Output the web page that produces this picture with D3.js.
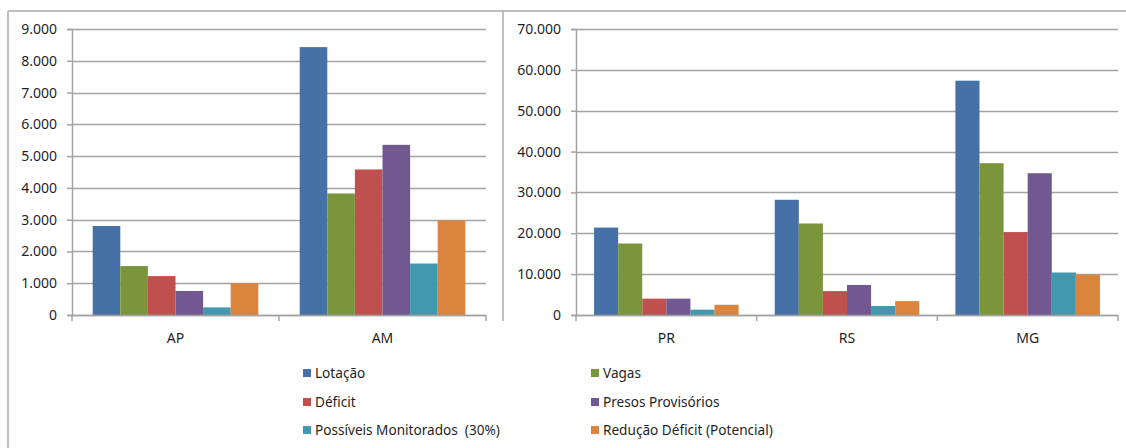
<!DOCTYPE html>
<html>
<head>
<meta charset="utf-8">
<script src="https://cdn.jsdelivr.net/npm/d3@7"></script>
<style>
  html, body { margin: 0; padding: 0; background: #fff; }
  svg { display: block; font-family: "Noto Sans", "Open Sans", sans-serif; }
</style>
</head>
<body>
<svg id="chart" width="1126" height="448"></svg>
<script>
// ---- data ----
const series = ["Lotação", "Vagas", "Déficit", "Presos Provisórios", "Possíveis Monitorados  (30%)", "Redução Déficit (Potencial)"];
const colors = ["#4571A6", "#7A953C", "#C0504D", "#715891", "#4298AF", "#DB843D"];

const leftCategories = ["AP", "AM"];
const leftLotacao     = [2800, 8430];
const leftVagas       = [1540, 3825];
const leftDeficit     = [1225, 4580];
const leftPresos      = [755, 5355];
const leftMonitorados = [240, 1620];
const leftReducao     = [1000, 2975];
const leftTicks = [0, 1000, 2000, 3000, 4000, 5000, 6000, 7000, 8000, 9000];

const rightCategories = ["PR", "RS", "MG"];
const rightLotacao     = [21400, 28200, 57350];
const rightVagas       = [17500, 22400, 37150];
const rightDeficit     = [4000, 5850, 20300];
const rightPresos      = [4000, 7350, 34700];
const rightMonitorados = [1300, 2200, 10400];
const rightReducao     = [2500, 3400, 9850];
const rightTicks = [0, 10000, 20000, 30000, 40000, 50000, 60000, 70000];

// ---- helpers ----
const locale = d3.formatLocale({decimal: ",", thousands: ".", grouping: [3], currency: ["R$", ""]});
const fmt = locale.format(",.0f");
const svg = d3.select("#chart");
const gridColor = "#a3a3a3";
const textColor = "#1f1f1f";

// outer frame
svg.append("line").attr("x1", 8).attr("x2", 1126).attr("y1", 11).attr("y2", 11)
  .attr("stroke", "#ababab").attr("stroke-width", 1.5);
svg.append("line").attr("x1", 8).attr("x2", 8).attr("y1", 11).attr("y2", 448)
  .attr("stroke", "#ababab").attr("stroke-width", 1.5);
svg.append("line").attr("x1", 503).attr("x2", 503).attr("y1", 11).attr("y2", 321)
  .attr("stroke", "#ababab").attr("stroke-width", 1.5);

function drawPanel(cats, seriesVals, ticks, x0, x1, yTop, yBot) {
  const g = svg.append("g");
  const x = d3.scaleBand().domain(cats).range([x0, x1]).paddingInner(0).paddingOuter(0);
  const inner = d3.scaleBand().domain(d3.range(series.length)).range([0, x.bandwidth()])
    .paddingOuter(0.75).paddingInner(0);
  const y = d3.scaleLinear().domain([0, ticks[ticks.length - 1]]).range([yBot, yTop]);

  // gridlines
  g.append("g").selectAll("line").data(ticks).join("line")
    .attr("x1", x0).attr("x2", x1)
    .attr("y1", d => Math.round(y(d)) + 0.5).attr("y2", d => Math.round(y(d)) + 0.5)
    .attr("stroke", gridColor).attr("stroke-width", 1.5);

  // y axis
  const yAxis = d3.axisLeft(y).tickValues(ticks).tickFormat(fmt).tickSize(5).tickPadding(10);
  const ya = g.append("g").attr("transform", `translate(${x0},0)`).call(yAxis);
  ya.select(".domain").attr("stroke", gridColor).attr("stroke-width", 1.5);
  ya.selectAll(".tick line").attr("stroke", gridColor).attr("stroke-width", 1.5);
  ya.selectAll(".tick text").attr("fill", textColor).style("font-size", "14px")
    .style("font-family", "'Noto Sans', sans-serif");

  // bars
  const groups = g.append("g").selectAll("g").data(cats).join("g")
    .attr("transform", c => `translate(${x(c)},0)`);
  groups.selectAll("rect").data((c, ci) => seriesVals.map((vals, si) => ({si, v: vals[ci]})))
    .join("rect")
    .attr("x", d => inner(d.si))
    .attr("width", inner.bandwidth())
    .attr("y", d => y(d.v))
    .attr("height", d => yBot - y(d.v))
    .attr("fill", d => colors[d.si]);

  // x axis
  const xa = g.append("g").attr("transform", `translate(0,${yBot})`);
  xa.append("line").attr("x1", x0).attr("x2", x1).attr("y1", 0.5).attr("y2", 0.5)
    .attr("stroke", gridColor).attr("stroke-width", 1.5);
  const bounds = cats.map(c => x(c)).concat([x1]);
  xa.selectAll("line.tk").data(bounds).join("line").attr("class", "tk")
    .attr("x1", d => d).attr("x2", d => d).attr("y1", 0).attr("y2", 6)
    .attr("stroke", gridColor).attr("stroke-width", 1.5);
  xa.selectAll("text").data(cats).join("text")
    .attr("x", c => x(c) + x.bandwidth() / 2).attr("y", 28)
    .attr("text-anchor", "middle").attr("fill", textColor)
    .style("font-size", "14px").text(c => c);
}

drawPanel(leftCategories,
  [leftLotacao, leftVagas, leftDeficit, leftPresos, leftMonitorados, leftReducao],
  leftTicks, 72, 486, 29, 315);
drawPanel(rightCategories,
  [rightLotacao, rightVagas, rightDeficit, rightPresos, rightMonitorados, rightReducao],
  rightTicks, 576, 1118, 29, 315);

// legend
const legendX = [303, 591];
const legendY = [373, 402, 430];
const lg = svg.append("g").selectAll("g").data(series).join("g")
  .attr("transform", (d, i) => `translate(${legendX[i % 2]},${legendY[Math.floor(i / 2)]})`);
lg.append("rect").attr("x", 0).attr("y", -4).attr("width", 8).attr("height", 8)
  .attr("fill", (d, i) => colors[i]);
lg.append("text").attr("x", 12).attr("y", 0).attr("dy", "0.35em")
  .attr("fill", textColor).style("font-size", "13.6px")
  .style("white-space", "pre").text(d => d);
</script>
</body>
</html>
